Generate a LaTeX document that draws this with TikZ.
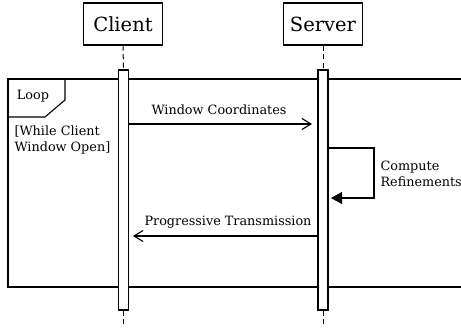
\documentclass[tikz,border=0pt]{standalone}
\usepackage{fontspec}
\setmainfont{DejaVu Serif}
\usetikzlibrary{arrows.meta}
\begin{document}
\begin{tikzpicture}[x=1pt,y=-1pt,
  line width=1.1pt,
  actor/.style={draw, fill=white, minimum width=79pt, minimum height=42pt, inner sep=0pt, font=\fontsize{19.5}{21}\selectfont},
  activation/.style={draw, fill=white, minimum width=10pt, minimum height=240pt, inner sep=0pt},
  lifeline/.style={dash pattern=on 5pt off 3.5pt, line width=1pt},
  msg/.style={-{Straight Barb[length=9pt,width=11pt,line width=1.1pt]}},
  selfmsg/.style={-{Triangle[length=11pt,width=12pt]}},
  lbl/.style={font=\fontsize{12.8}{16.5}\selectfont, inner sep=0pt}]
\useasboundingbox (0,0) rectangle (461,328);
\fill[white] (0,0) rectangle (461,328);

% participants
\node[actor] (client) at (123,24) {Client};
\node[actor] (server) at (323,24) {Server};

% loop frame
\draw (8,79) rectangle (475,287);
\draw (8,79) -- (65,79) -- (65,100) -- (45,117) -- (8,117);
\node[lbl, anchor=base] (looplbl) at (33,100) {Loop};
% multi-line nodes: the base anchor sits on the last line
\node[lbl, anchor=base west, align=left] (guard) at (14,152) {[While Client\\Window Open]};

% lifelines and activations
\node[activation] (cact) at (123.5,190) {};
\node[activation] (sact) at (323,190) {};
\coordinate (cend) at (123.5,328);
\coordinate (send) at (323,328);
\draw[lifeline] (client.south) -- (cact.north);
\draw[lifeline] (server.south) -- (sact.north);
\draw[lifeline] (cact.south) -- (cend);
\draw[lifeline] (sact.south) -- (send);

% messages
\coordinate (m1s) at (cact.east |- 0,124);
\coordinate (m1e) at (312,124);
\draw[msg] (m1s) -- (m1e);
\node[lbl, anchor=base] (m1lbl) at (219,115) {Window Coordinates};

\coordinate (m2s) at (sact.east |- 0,148);
\coordinate (m2a) at (374,148);
\coordinate (m2b) at (374,198);
\coordinate (m2e) at (331,198);
\draw[selfmsg] (m2s) -- (m2a) -- (m2b) -- (m2e);
\node[lbl, anchor=base west, align=left] (m2lbl) at (380,187) {Compute\\Refinements};

\coordinate (m3s) at (sact.west |- 0,236);
\coordinate (m3e) at (133,236);
\draw[msg] (m3s) -- (m3e);
\node[lbl, anchor=base] (m3lbl) at (228,226) {Progressive Transmission};
\end{tikzpicture}
\end{document}
